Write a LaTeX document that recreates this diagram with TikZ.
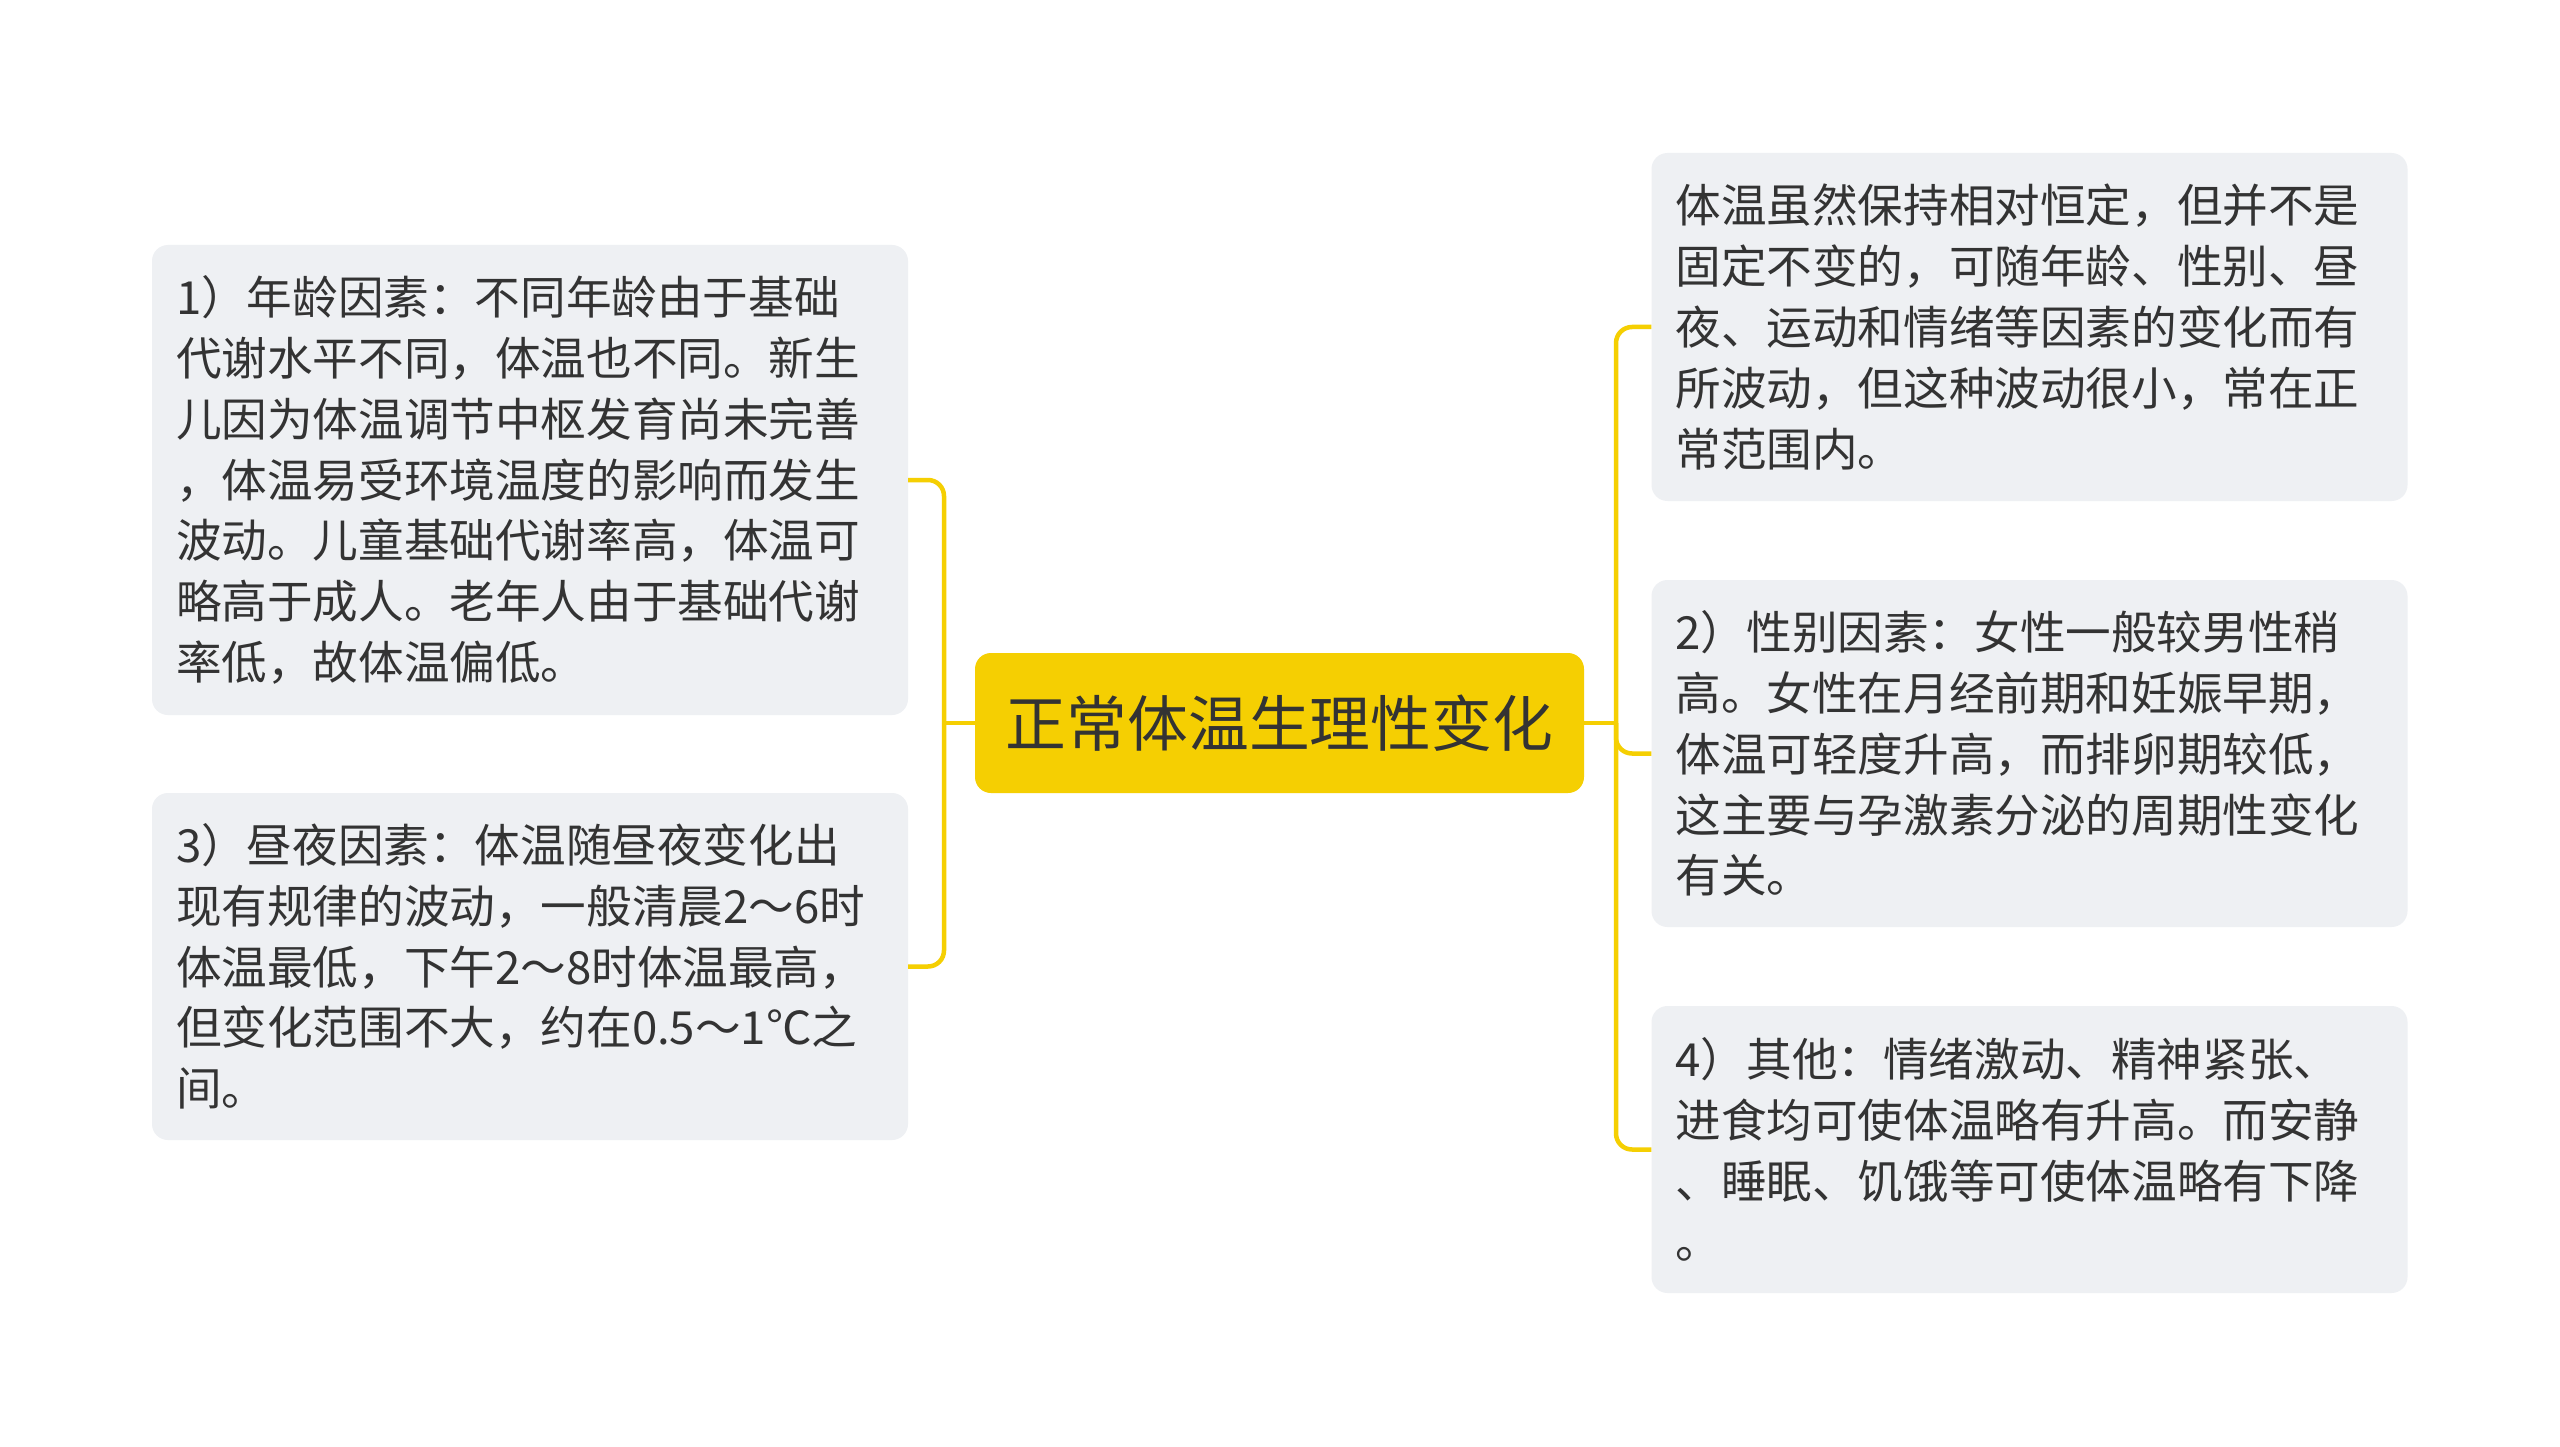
\documentclass[tikz,border=0pt]{standalone}
\usepackage{fontspec}
\setmainfont{Noto Sans CJK SC}
\definecolor{txt}{HTML}{333333}
\definecolor{boxbg}{HTML}{EEF0F3}
\definecolor{ylw}{HTML}{F5CF02}
\tikzset{
  leaf/.style={rectangle, rounded corners=16pt, fill=boxbg, text=txt,
    inner xsep=24pt, inner ysep=0pt, text width=708pt, align=left,
    minimum width=756pt,
    font=\fontsize{45.6pt}{60.8pt}\selectfont},
  rootbox/.style={rectangle, rounded corners=16pt, fill=ylw, text=txt,
    inner sep=0pt, minimum width=609pt, minimum height=140pt,
    font=\fontsize{60.8pt}{72pt}\selectfont},
  conn/.style={draw=ylw, line width=4.5pt, rounded corners=16pt}
}
\begin{document}
\begin{tikzpicture}[x=1pt,y=-1pt]
\fill[white] (0,0) rectangle (2560,1447);
\useasboundingbox (0,0) rectangle (2560,1447);

\node[rootbox] (c) at (1279.5,723) {正常体温生理性变化};

\node[leaf, minimum height=470pt] (b1) at (530,480) {1）年龄因素：不同年龄由于基础\\代谢水平不同，体温也不同。新生\\儿因为体温调节中枢发育尚未完善\\，体温易受环境温度的影响而发生\\波动。儿童基础代谢率高，体温可\\略高于成人。老年人由于基础代谢\\率低，故体温偏低。};

\node[leaf, minimum height=347pt] (b3) at (530,966.5) {3）昼夜因素：体温随昼夜变化出\\现有规律的波动，一般清晨2～6时\\体温最低，下午2～8时体温最高，\\但变化范围不大，约在0.5～1℃之\\间。};

\node[leaf, minimum height=348pt] (rt) at (2029.5,327) {体温虽然保持相对恒定，但并不是\\固定不变的，可随年龄、性别、昼\\夜、运动和情绪等因素的变化而有\\所波动，但这种波动很小，常在正\\常范围内。};

\node[leaf, minimum height=347pt] (r2) at (2029.5,753.5) {2）性别因素：女性一般较男性稍\\高。女性在月经前期和妊娠早期，\\体温可轻度升高，而排卵期较低，\\这主要与孕激素分泌的周期性变化\\有关。};

\node[leaf, minimum height=287pt] (r4) at (2029.5,1149.5) {4）其他：情绪激动、精神紧张、\\进食均可使体温略有升高。而安静\\、睡眠、饥饿等可使体温略有下降\\。};

\coordinate (lj) at (944,723);
\coordinate (rj) at (1616,723);

\draw[conn] (c.west) -- (lj);
\draw[conn] (lj) |- (b1.east);
\draw[conn] (lj) |- (b3.east);

\draw[conn] (c.east) -- (rj);
\draw[conn] (rj) |- (rt.west);
\draw[conn] (rj) |- (r2.west);
\draw[conn] (rj) |- (r4.west);
\end{tikzpicture}
\end{document}
